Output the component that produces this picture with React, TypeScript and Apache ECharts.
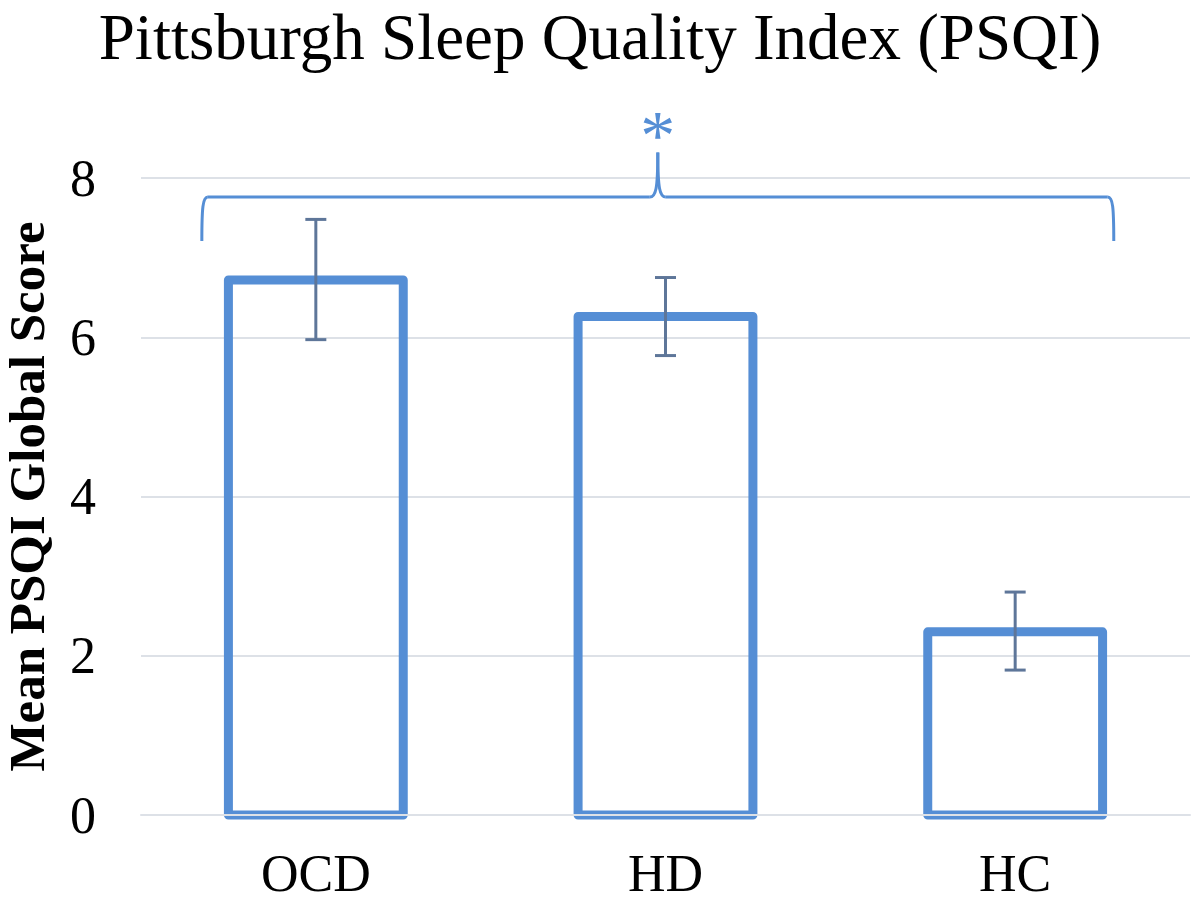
import React, { useEffect, useRef } from "react";
import * as echarts from "echarts";

const categories = ["OCD", "HD", "HC"];
const means = [6.72, 6.26, 2.3];
const errLow = [5.97, 5.77, 1.82];
const errHigh = [7.48, 6.75, 2.8];
const titleText = "Pittsburgh Sleep Quality Index (PSQI)";
const yAxisName = "Mean PSQI Global Score";
const significance = "*";
// bracket levels (in data units)
const bracketEnd = 7.21;
const bracketLevel = 7.76;
const bracketPeak = 8.32;

const BLUE = "#558ed5";
const ERR = "#5e7699";
const GRID = "#dde1e7";
const SERIF = '"Liberation Serif", "Times New Roman", serif';

export default function App() {
  const ref = useRef<HTMLDivElement>(null);
  useEffect(() => {
    document.body.style.margin = "0";
    const chart = echarts.init(ref.current!, null, { renderer: "svg" });
    chart.setOption({
      animation: false,
      title: {
        text: titleText,
        left: "center",
        top: 4,
        padding: 0,
        textStyle: { fontFamily: SERIF, fontSize: 65, fontWeight: "normal", color: "#000" },
      },
      grid: { left: 141, right: 10, top: 178, bottom: 88, outerBoundsMode: "none", containLabel: false },
      xAxis: {
        type: "category",
        data: categories,
        z: 10,
        axisLine: { lineStyle: { color: GRID, width: 2 } },
        axisTick: { show: false },
        axisLabel: { fontFamily: SERIF, fontSize: 52, color: "#000", margin: 32 },
      },
      yAxis: {
        type: "value",
        min: 0,
        max: 8,
        interval: 2,
        name: yAxisName,
        nameLocation: "middle",
        nameGap: 92,
        nameTextStyle: { fontFamily: SERIF, fontSize: 51, lineHeight: 44, fontWeight: "bold", color: "#000" },
        axisLine: { show: false },
        axisTick: { show: false },
        axisLabel: { fontFamily: SERIF, fontSize: 52, color: "#000", margin: 45 },
        splitLine: { lineStyle: { color: GRID, width: 2 } },
      },
      series: [
        {
          type: "custom",
          name: "Mean",
          z: 2,
          data: categories.map((_, i) => [i, means[i]]),
          renderItem: (params: any, api: any) => {
            const top = api.coord([api.value(0), api.value(1)]);
            const base = api.coord([api.value(0), 0]);
            const w = api.size([1, 0])[0] * 0.5;
            return {
              type: "rect",
              shape: { x: top[0] - w / 2, y: top[1], width: w, height: base[1] - top[1] },
              style: { fill: "none", stroke: BLUE, lineWidth: 9, lineJoin: "round" },
            };
          },
        },
        {
          type: "custom",
          name: "SE",
          z: 5,
          data: categories.map((_, i) => [i, errLow[i], errHigh[i]]),
          renderItem: (params: any, api: any) => {
            const lo = api.coord([api.value(0), api.value(1)]);
            const hi = api.coord([api.value(0), api.value(2)]);
            const hw = 10.5;
            const style = { stroke: ERR, lineWidth: 3, fill: "none" };
            return {
              type: "group",
              children: [
                { type: "line", shape: { x1: lo[0], y1: lo[1], x2: hi[0], y2: hi[1] }, style },
                { type: "line", shape: { x1: lo[0] - hw, y1: lo[1], x2: lo[0] + hw, y2: lo[1] }, style },
                { type: "line", shape: { x1: hi[0] - hw, y1: hi[1], x2: hi[0] + hw, y2: hi[1] }, style },
              ],
            };
          },
        },
      ],
    });

    // significance bracket, positioned from the axes
    const p0 = chart.convertToPixel({ gridIndex: 0 }, [0, bracketLevel]) as number[];
    const p1 = chart.convertToPixel({ gridIndex: 0 }, [1, bracketLevel]) as number[];
    const p2 = chart.convertToPixel({ gridIndex: 0 }, [2, bracketLevel]) as number[];
    const band = p1[0] - p0[0];
    const yEnd = (chart.convertToPixel({ gridIndex: 0 }, [0, bracketEnd]) as number[])[1];
    const yLev = p0[1];
    const yPk = (chart.convertToPixel({ gridIndex: 0 }, [0, bracketPeak]) as number[])[1];
    const xl = p0[0] - 0.326 * band;
    const xr = p2[0] + 0.282 * band;
    const xm = p1[0] - 0.022 * band;
    const r = 6;
    const bstyle = { stroke: BLUE, lineWidth: 3, fill: "none" };
    chart.setOption({
      graphic: [
        { type: "bezierCurve", shape: { x1: xl, y1: yEnd, cpx1: xl, cpy1: yLev + 10, cpx2: xl + 1, cpy2: yLev, x2: xl + r, y2: yLev }, style: bstyle },
        { type: "line", shape: { x1: xl + r, y1: yLev, x2: xm - 8, y2: yLev }, style: bstyle },
        { type: "bezierCurve", shape: { x1: xm - 8, y1: yLev, cpx1: xm - 2, cpy1: yLev, cpx2: xm, cpy2: yLev - 8, x2: xm, y2: yPk }, style: bstyle },
        { type: "bezierCurve", shape: { x1: xm, y1: yPk, cpx1: xm, cpy1: yLev - 8, cpx2: xm + 2, cpy2: yLev, x2: xm + 8, y2: yLev }, style: bstyle },
        { type: "line", shape: { x1: xm + 8, y1: yLev, x2: xr - r, y2: yLev }, style: bstyle },
        { type: "bezierCurve", shape: { x1: xr - r, y1: yLev, cpx1: xr - 1, cpy1: yLev, cpx2: xr, cpy2: yLev + 10, x2: xr, y2: yEnd }, style: bstyle },
        {
          type: "text",
          x: xm,
          y: yPk + 18,
          style: { text: significance, fontFamily: SERIF, fontSize: 70, fill: BLUE, align: "center", verticalAlign: "bottom" },
        },
      ],
    });
    return () => chart.dispose();
  }, []);
  return <div ref={ref} style={{ width: 1200, height: 903 }} />;
}
